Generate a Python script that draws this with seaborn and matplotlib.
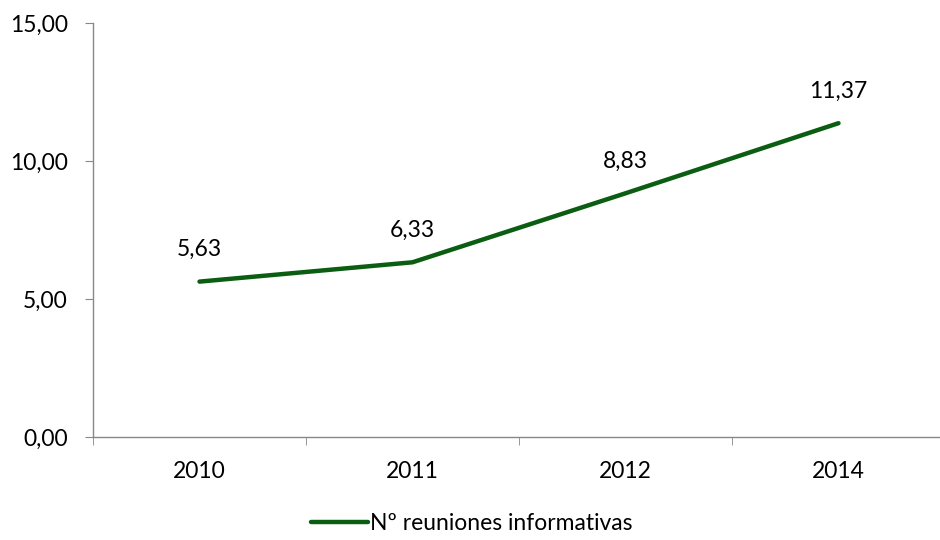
import numpy as np
import matplotlib.pyplot as plt
import seaborn as sns
import pandas as pd

years = ["2010", "2011", "2012", "2014"]
values = [5.63, 6.33, 8.83, 11.37]
series_name = "Nº reuniones informativas"

sns.set_style("white")
plt.rcParams["font.family"] = ["Lato", "DejaVu Sans"]
plt.rcParams["text.color"] = "black"
plt.rcParams["xtick.color"] = "black"
plt.rcParams["ytick.color"] = "black"

FS = 16.5

df = pd.DataFrame({"year": years, "value": values, "serie": series_name})
df["pos"] = np.arange(len(years))

fig = plt.figure(figsize=(9.4, 5.4), dpi=100)
ax = fig.add_axes([93 / 940, 1 - 437 / 540, 852 / 940, 414 / 540])

sns.lineplot(data=df, x="pos", y="value", hue="serie", palette=["#0b5d12"],
             linewidth=3.2, ax=ax, legend=True)

# data labels above each point
for x, v in zip(df["pos"], values):
    ax.text(x, v + 1.17, f"{v:.2f}".replace(".", ","), ha="center", va="center",
            fontsize=FS, color="black")

ax.set_xlim(-0.5, len(years) - 0.5)
ax.set_ylim(0, 15)
ax.set_yticks([0, 5, 10, 15])
ax.set_yticklabels([f"{t:.2f}".replace(".", ",") for t in [0, 5, 10, 15]], fontsize=FS)
ax.set_xticks(df["pos"])
ax.set_xticklabels(years, fontsize=FS)
ax.set_xticks(np.arange(-0.5, len(years), 1.0), minor=True)
ax.tick_params(axis="x", which="major", length=0, pad=17)
ax.tick_params(axis="x", which="minor", length=6, color="#888888", bottom=True)
ax.tick_params(axis="y", length=6, color="#888888", left=True, pad=12)
ax.set_xlabel("")
ax.set_ylabel("")

for s in ["top", "right"]:
    ax.spines[s].set_visible(False)
for s in ["left", "bottom"]:
    ax.spines[s].set_color("#888888")
    ax.spines[s].set_linewidth(1)

# legend centred on the figure, not the axes
handles, labels = ax.get_legend_handles_labels()
ax.get_legend().remove()
fig.legend(handles, labels, loc="center", bbox_to_anchor=(0.502, 1 - 524 / 540),
           frameon=False, fontsize=FS, handlelength=2.5, handletextpad=0.1)

fig.savefig("out.png", dpi=100)
